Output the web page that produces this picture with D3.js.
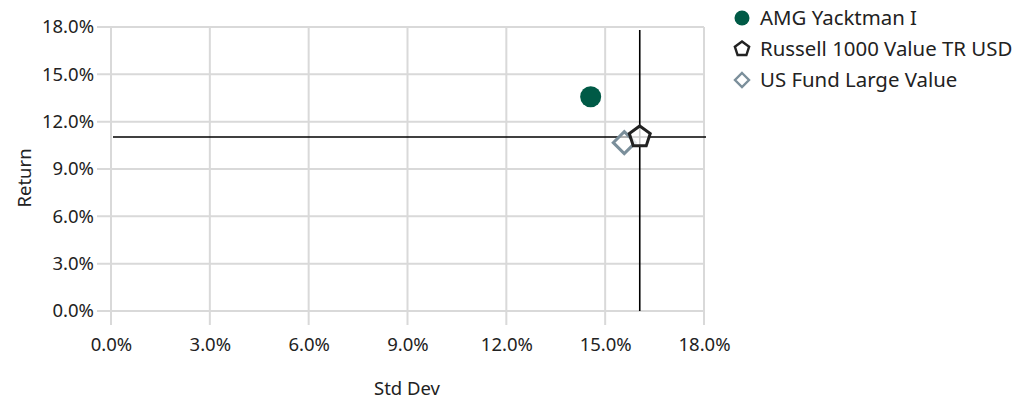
<!DOCTYPE html>
<html>
<head>
<meta charset="utf-8">
<script src="https://cdn.jsdelivr.net/npm/d3@7"></script>
<style>
  body { margin: 0; background: #fff; }
  svg { display: block; font-family: "Noto Sans", "Open Sans", sans-serif; }
</style>
</head>
<body>
<svg id="chart" width="1019" height="399"></svg>
<script>
// Risk / return data (percent)
const names = ["AMG Yacktman I", "Russell 1000 Value TR USD", "US Fund Large Value"];
const stdDev = [14.56, 16.05, 15.58];
const returns = [13.58, 11.03, 10.67];
const shapes = ["circle", "pentagon", "diamond"];
const colors = ["#005a46", "#222222", "#7b8f9b"];
const xTicks = [0, 3, 6, 9, 12, 15, 18];
const yTicks = [0, 3, 6, 9, 12, 15, 18];

const svg = d3.select("#chart");
const m = { left: 111, right: 704, top: 27, bottom: 311 };

const x = d3.scaleLinear().domain([0, 18]).range([m.left, m.right]);
const y = d3.scaleLinear().domain([0, 18]).range([m.bottom, m.top]);
const fmt = d => d.toFixed(1) + "%";
const FONT = "'Noto Sans', 'Open Sans', sans-serif";

// grid + ticks
const grid = svg.append("g").attr("stroke", "#d9d9d9").attr("stroke-width", 2);
grid.selectAll(".h").data(yTicks).join("line")
  .attr("x1", m.left - 14).attr("x2", m.right)
  .attr("y1", d => y(d)).attr("y2", d => y(d));
grid.selectAll(".v").data(xTicks).join("line")
  .attr("x1", d => x(d)).attr("x2", d => x(d))
  .attr("y1", m.top).attr("y2", m.bottom + 14);

// axes
const yAxis = d3.axisLeft(y).tickValues(yTicks).tickFormat(fmt).tickSize(0).tickPadding(17);
const xAxis = d3.axisBottom(x).tickValues(xTicks).tickFormat(fmt).tickSize(0).tickPadding(27);
const ya = svg.append("g").attr("transform", `translate(${m.left},0)`).call(yAxis);
const xa = svg.append("g").attr("transform", `translate(0,${m.bottom})`).call(xAxis);
[ya, xa].forEach(a => {
  a.select(".domain").remove();
  a.attr("font-size", null).attr("font-family", null);
  a.selectAll("text").style("font-size", "18.5px").style("fill", "#222")
    .style("font-family", FONT);
});

// axis titles
svg.append("text").attr("x", 407).attr("y", 395).attr("text-anchor", "middle")
  .style("font-size", "18.5px").style("fill", "#222").style("font-family", FONT).text("Std Dev");
svg.append("text").attr("transform", "translate(31,178) rotate(-90)")
  .attr("text-anchor", "middle").style("font-size", "18.5px").style("fill", "#222")
  .style("font-family", FONT).text("Return");

// benchmark crosshair
const bx = stdDev[1], by = returns[1];
svg.append("line").attr("x1", m.left + 2).attr("x2", m.right + 2)
  .attr("y1", y(by)).attr("y2", y(by)).attr("stroke", "#000").attr("stroke-width", 1.6);
svg.append("line").attr("x1", x(bx)).attr("x2", x(bx))
  .attr("y1", 30).attr("y2", m.bottom).attr("stroke", "#000").attr("stroke-width", 1.6);

function pentagon(r) {
  const pts = d3.range(5).map(i => {
    const a = -Math.PI / 2 + i * 2 * Math.PI / 5;
    return [r * Math.cos(a), r * Math.sin(a)];
  });
  return "M" + pts.join("L") + "Z";
}
function diamond(r) {
  return `M0,${-r}L${r},0L0,${r}L${-r},0Z`;
}

function drawMark(g, shape, color, size) {
  if (shape === "circle") {
    g.append("circle").attr("r", size).attr("fill", color);
  } else if (shape === "pentagon") {
    g.append("path").attr("d", pentagon(size)).attr("fill", "rgba(255,255,255,0.8)")
      .attr("stroke", color).attr("stroke-width", size > 8 ? 3 : 2.4);
  } else {
    g.append("path").attr("d", diamond(size)).attr("fill", "rgba(255,255,255,0.6)")
      .attr("stroke", color).attr("stroke-width", size > 8 ? 3 : 2.4);
  }
}

// points: diamond first, then pentagon, then circle on top
const order = [2, 1, 0];
const sizes = { circle: 10.5, pentagon: 11, diamond: 11 };
order.forEach(i => {
  const g = svg.append("g").attr("transform", `translate(${x(stdDev[i])},${y(returns[i])})`);
  drawMark(g, shapes[i], colors[i], sizes[shapes[i]]);
});

// legend
const legSize = { circle: 7.5, pentagon: 7.5, diamond: 7 };
names.forEach((n, i) => {
  const ly = 18 + i * 31;
  const g = svg.append("g").attr("transform", `translate(742,${ly})`);
  drawMark(g, shapes[i], colors[i], legSize[shapes[i]]);
  svg.append("text").attr("x", 760).attr("y", ly).attr("dy", "0.35em")
    .style("font-size", "20.4px").style("fill", "#222").style("font-family", FONT).text(n);
});
</script>
</body>
</html>
